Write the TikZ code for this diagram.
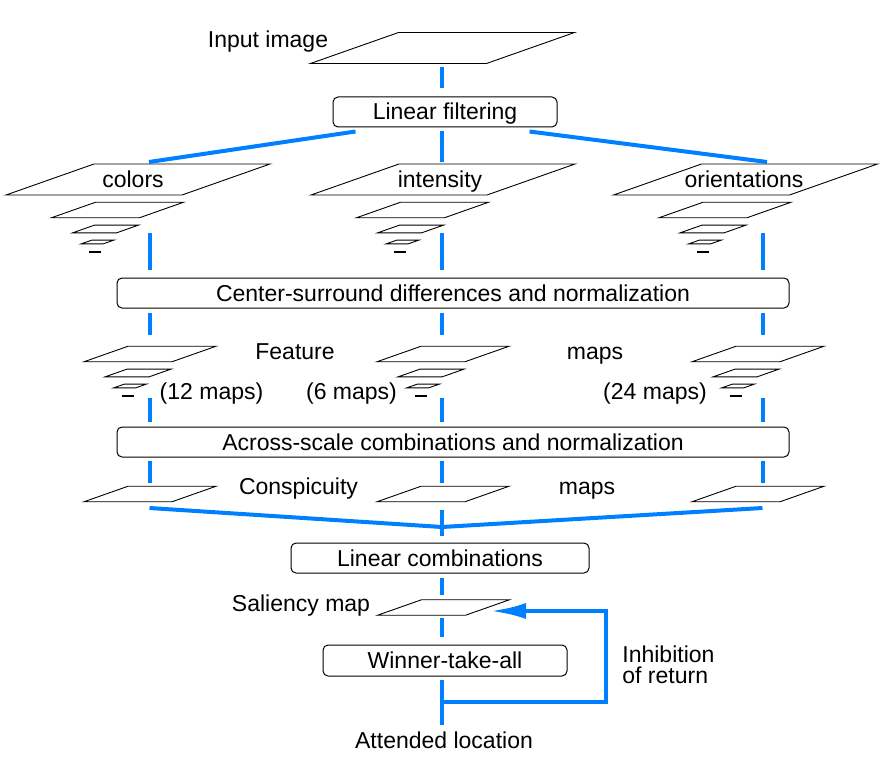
\documentclass[tikz,border=0pt]{standalone}
\usepackage{fontspec}
\setmainfont{Liberation Sans}
\usetikzlibrary{arrows.meta}

% one map plane: centre x, centre y, scale
\newcommand{\mapsheet}[3]{%
    \draw[mapplane] ({#1-132*#3}, {#2+15.5*#3}) -- ++({176*#3}, 0) -- ++({88*#3}, {-31*#3}) -- ++({-176*#3}, 0) -- cycle;}

\begin{document}
\begin{tikzpicture}[x=0.5pt, y=-0.5pt, font=\fontsize{11.5}{13.8}\selectfont,
    procbox/.style={draw, rounded corners=2.5pt, line width=0.5pt, minimum height=15pt, inner sep=0pt, text height=8pt, text depth=0pt},
    mapplane/.style={draw, line width=0.45pt},
    flow/.style={draw=flowcolor, line width=2pt},
    lbl/.style={anchor=base, inner sep=0pt}]
    % Define colors
    \definecolor{flowcolor}{RGB}{0, 128, 255}

    \useasboundingbox (0,0) rectangle (887,775);

    % Input image and image pyramids
    \mapsheet{442.5}{48}{1}
    \foreach \cx in {138, 443, 745.5} {
        \foreach \dx/\dy/\sc in {0/0/1, -20.5/30.5/0.5, -32.5/49.5/0.25, -40.5/62.5/0.125}
            {\mapsheet{\cx+(\dx)}{179.5+\dy}{\sc}}
        \draw[mapplane, line width=0.6pt] ({\cx-49}, 252) -- ++(12,0);
    }

    % Feature maps
    \foreach \cx in {150, 443, 758} {
        \foreach \dx/\dy/\sc in {0/0/0.5, -12/19/0.25, -20/32/0.125}
            {\mapsheet{\cx+(\dx)}{354+\dy}{\sc}}
        \draw[mapplane, line width=0.6pt] ({\cx-28.5}, 396) -- ++(12,0);
    }

    % Conspicuity maps and saliency map
    \foreach \cx in {150, 443, 758}
        {\mapsheet{\cx}{494}{0.5}}
    \mapsheet{443.5}{607.5}{0.5}

    % Processing stages
    \node[procbox, minimum width=112pt] (lfilt) at (445,112) {Linear filtering};
    \node[procbox, minimum width=336pt] (csd) at (453,293) {Center-surround differences and normalization\hspace{8pt}};
    \node[procbox, minimum width=336pt] (acs) at (453,442) {Across-scale combinations and normalization\hspace{8pt}};
    \node[procbox, minimum width=149pt] (lcomb) at (440,558) {Linear combinations};
    \node[procbox, minimum width=122pt, minimum height=15.5pt] (wta) at (445,660.5) {Winner-take-all};

    % Labels
    \node[lbl] (inlbl) at (268,48) {Input image};
    \node[lbl] (collbl) at (133,188) {colors};
    \node[lbl] (intlbl) at (440,188) {intensity};
    \node[lbl] (orilbl) at (744,188) {orientations};
    \node[lbl] (featlbl) at (295,359) {Feature};
    \node[lbl] (featmaps) at (595,359) {maps};
    \node[lbl] (colnum) at (211.5,399) {(12 maps)};
    \node[lbl] (intnum) at (351.5,399) {(6 maps)};
    \node[lbl] (orinum) at (655,399) {(24 maps)};
    \node[lbl] (conlbl) at (298.5,494) {Conspicuity};
    \node[lbl] (conmaps) at (587,494) {maps};
    \node[lbl] (sallbl) at (301,611) {Saliency map};
    \node[inner sep=0pt, anchor=north west, align=left, font=\fontsize{11.5}{10.5}\selectfont] (iorlbl) at (622,645) {Inhibition\\of return};
    \node[lbl] (attlbl) at (444,748) {Attended location};

    % Connector end points
    \coordinate (inimg) at (442,63);
    \coordinate (colsTop) at (149,162);
    \coordinate (intTop) at (442,162);
    \coordinate (oriTop) at (767,162);
    \coordinate (colsImg) at (149.5,233);
    \coordinate (intImg) at (442,233);
    \coordinate (oriImg) at (762.5,233);
    \coordinate (colsFeat) at (149.5,335);
    \coordinate (intFeat) at (442,335);
    \coordinate (oriFeat) at (762.5,335);
    \coordinate (colsFeatB) at (149.5,398);
    \coordinate (intFeatB) at (442,398);
    \coordinate (oriFeatB) at (762.5,398);
    \coordinate (colsCon) at (149.5,483);
    \coordinate (intCon) at (442,483);
    \coordinate (oriCon) at (762.5,483);
    \coordinate (colsConB) at (149.5,508);
    \coordinate (intConB) at (442,510);
    \coordinate (oriConB) at (762.5,508);
    \coordinate (merge) at (442,527);
    \coordinate (salTop) at (442,600);
    \coordinate (salBot) at (442,615);
    \coordinate (salIn) at (491,611);
    \coordinate (iorfork) at (442,702);

    % Input to linear filtering
    \draw[flow, shorten <=2pt, shorten >=4pt] (inimg) -- (inimg |- lfilt.north);
    \draw[flow] ([shift={(23,4)}]lfilt.south west) -- (colsTop);
    \draw[flow, shorten <=2pt] (lfilt.south -| intTop) -- (intTop);
    \draw[flow] ([shift={(-28,4)}]lfilt.south east) -- (oriTop);

    % Pyramids to center-surround, then to feature maps
    \foreach \col in {cols, int, ori} {
        \draw[flow, shorten >=4pt] (\col Img) -- (\col Img |- csd.north);
        \draw[flow, shorten <=2pt] (csd.south -| \col Feat) -- (\col Feat);
        \draw[flow, shorten >=2.5pt] (\col FeatB) -- (\col FeatB |- acs.north);
        \draw[flow, shorten <=1.5pt] (acs.south -| \col Con) -- (\col Con);
    }

    % Conspicuity maps to saliency map
    \draw[flow] (colsConB) -- (merge) -- (oriConB);
    \draw[flow, shorten >=3.5pt] (intConB) -- (intConB |- lcomb.north);
    \draw[flow, shorten <=2pt, shorten >=2.5pt] (lcomb.south -| salTop) -- (salTop);
    \draw[flow, shorten <=1.5pt, shorten >=4pt] (salBot) -- (salBot |- wta.north);
    \draw[flow, shorten <=1.5pt, shorten >=3pt] (wta.south -| salBot) -- (attlbl.north -| salBot);

    % Inhibition of return
    \draw[flow, -{Latex[length=17.5pt, width=8pt]}] (iorfork) -- ++(164,0) |- (salIn);

\end{tikzpicture}
\end{document}
